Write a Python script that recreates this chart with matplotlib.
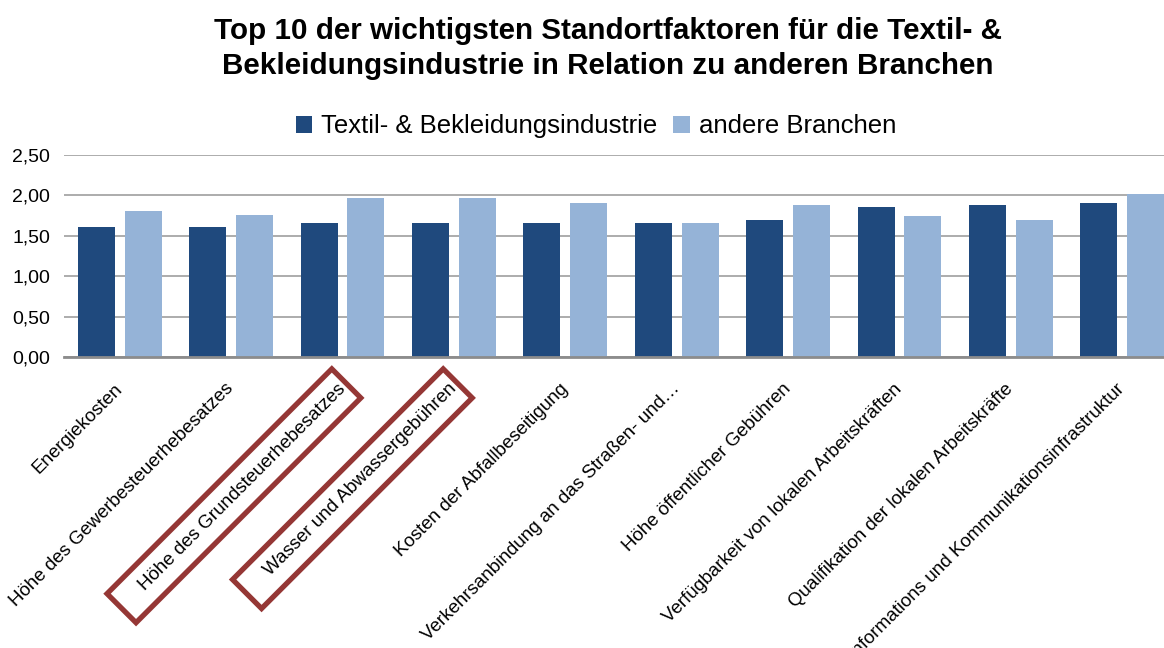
import numpy as np
import matplotlib
matplotlib.use("Agg")
import matplotlib.pyplot as plt
from matplotlib.patches import Rectangle
from matplotlib.transforms import IdentityTransform

plt.rcParams["font.family"] = ["Liberation Sans", "DejaVu Sans"]

# ---- Daten ----
faktoren = [
    "Energiekosten",
    "Höhe des Gewerbesteuerhebesatzes",
    "Höhe des Grundsteuerhebesatzes",
    "Wasser und Abwassergebühren",
    "Kosten der Abfallbeseitigung",
    "Verkehrsanbindung an das Straßen- und…",
    "Höhe öffentlicher Gebühren",
    "Verfügbarkeit von lokalen Arbeitskräften",
    "Qualifikation der lokalen Arbeitskräfte",
    "Informations und Kommunikationsinfrastruktur",
]
textil = [1.61, 1.61, 1.66, 1.66, 1.66, 1.66, 1.69, 1.85, 1.88, 1.90]
andere = [1.81, 1.76, 1.97, 1.97, 1.90, 1.66, 1.88, 1.74, 1.69, 2.02]
y_ticks = [0.0, 0.5, 1.0, 1.5, 2.0, 2.5]
y_labels = ["0,00", "0,50", "1,00", "1,50", "2,00", "2,50"]
markiert = [2, 3]  # rot umrandete Faktoren

c_dunkel = "#1F497D"
c_hell = "#95B3D7"
c_rot = "#953735"

# ---- Figur ----
dpi = 100
fig = plt.figure(figsize=(11.64, 6.48), dpi=dpi)
ax = fig.add_axes([0.055, 0.449, 0.957, 0.312])

x = np.arange(len(faktoren))
w = 0.332
ax.bar(x - 0.21, textil, w, color=c_dunkel, label="Textil- & Bekleidungsindustrie", zorder=3)
ax.bar(x + 0.21, andere, w, color=c_hell, label="andere Branchen", zorder=3)

ax.set_xlim(-0.5, len(faktoren) - 0.5)
ax.set_ylim(0, 2.5)
ax.set_yticks(y_ticks)
ax.set_yticklabels(y_labels, fontsize=14)
ax.set_xticks(x)
ax.set_xticklabels(faktoren, fontsize=13.5, rotation=45, ha="right",
                   va="center", rotation_mode="anchor")
ax.tick_params(axis="both", length=0)
ax.tick_params(axis="x", pad=21)
ax.tick_params(axis="y", pad=10)

ax.grid(axis="y", color="#A6A6A6", linewidth=1.3, zorder=0)
for s in ["top", "right", "left"]:
    ax.spines[s].set_visible(False)
ax.spines["bottom"].set_color("#8C8C8C")
ax.spines["bottom"].set_linewidth(2)
ax.spines["bottom"].set_zorder(4)

fig.text(0.522, 0.925, "Top 10 der wichtigsten Standortfaktoren für die Textil- &\n"
         "Bekleidungsindustrie in Relation zu anderen Branchen",
         ha="center", va="center", fontsize=21.3, fontweight="bold", linespacing=1.3)

fig.legend(loc="center", bbox_to_anchor=(0.512, 0.805), ncol=2, frameon=False,
           fontsize=18.5, handlelength=0.65, handleheight=0.65, handletextpad=0.35,
           columnspacing=0.6)

# ---- rote Rahmen um markierte Beschriftungen ----
fig.canvas.draw()
r = fig.canvas.get_renderer()
labs = ax.get_xticklabels()
for i in markiert:
    lab = labs[i]
    bb = lab.get_window_extent(r)
    h = lab.get_size() * dpi / 72 * 1.1
    L = np.sqrt(2) * (bb.width + bb.height) / 2 - h
    cx = bb.x0 + bb.width / 2 - 8
    cy = bb.y0 + bb.height / 2 - 9
    Lb, Hb = L + 37, 41
    rect = Rectangle((cx - Lb / 2, cy - Hb / 2), Lb, Hb, angle=45,
                     rotation_point="center", transform=IdentityTransform(),
                     fill=False, edgecolor=c_rot, linewidth=3.8)
    fig.add_artist(rect)

fig.savefig("out.png", dpi=dpi)
